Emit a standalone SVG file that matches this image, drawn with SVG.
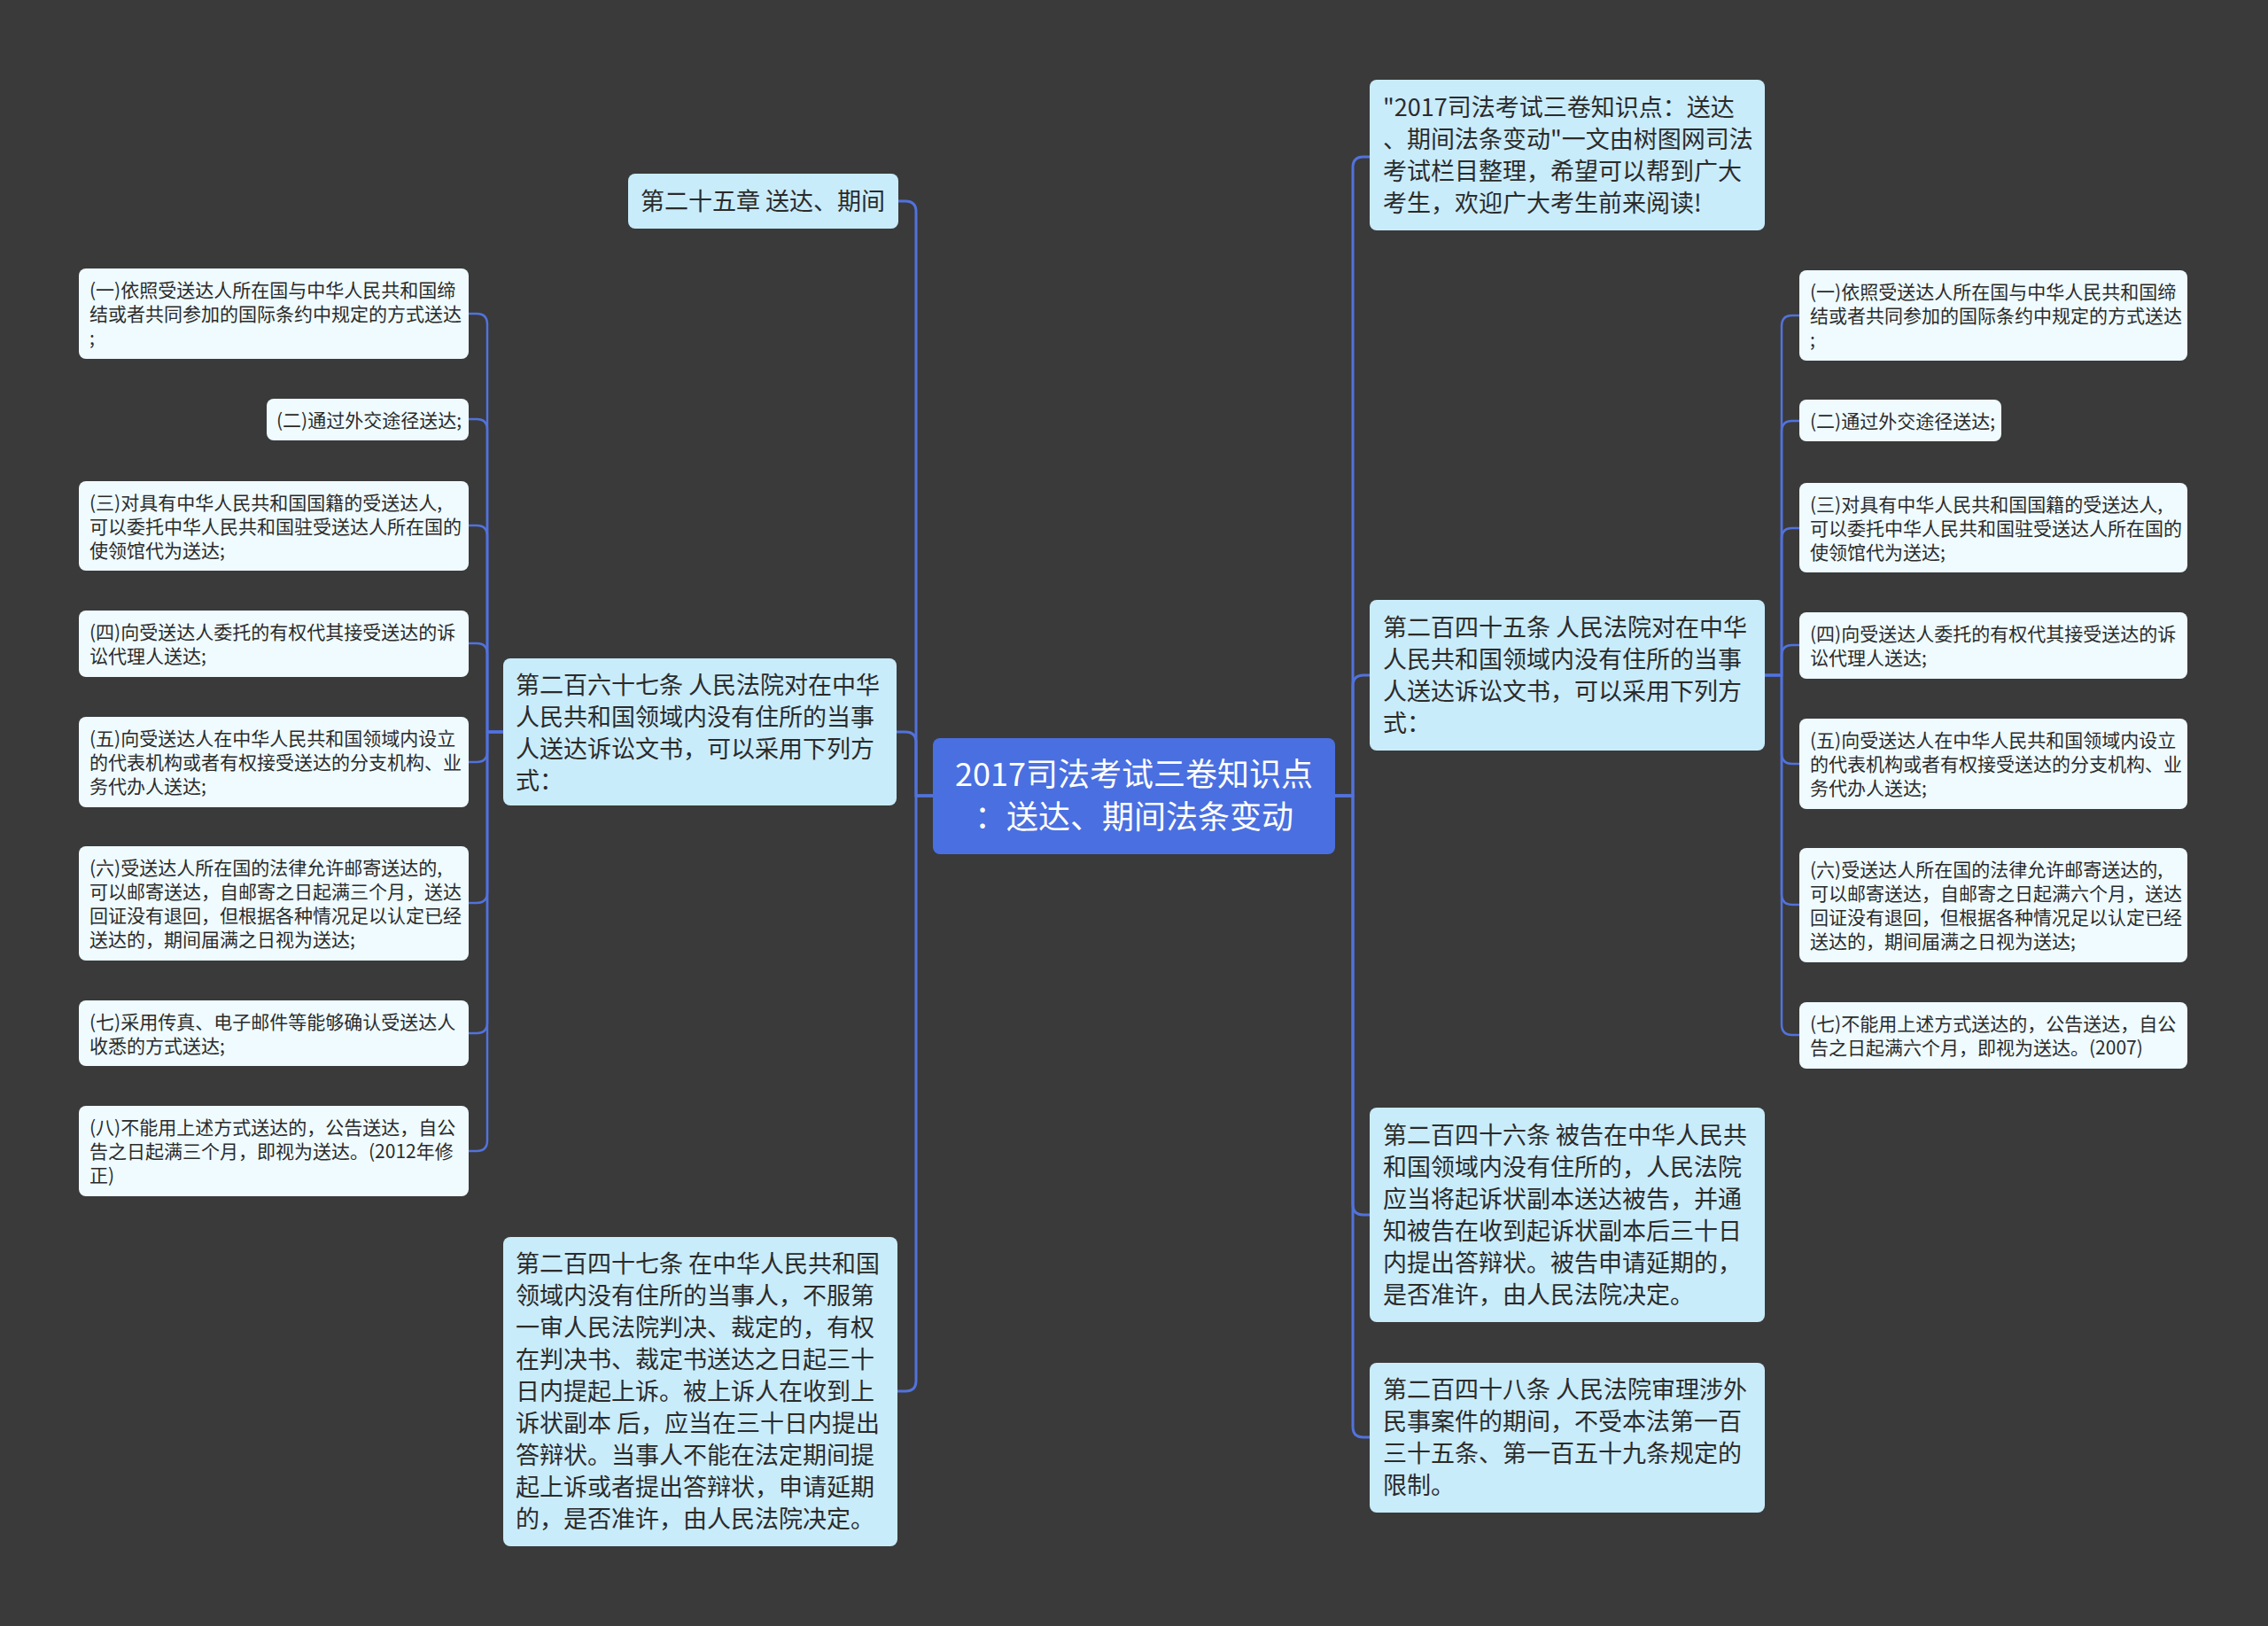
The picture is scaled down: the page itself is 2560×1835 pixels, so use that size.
<svg xmlns="http://www.w3.org/2000/svg" width="2560" height="1835" viewBox="0 0 2560 1835">
<style>
.bg{fill:#3a3a3a}
.root{fill:#4a6fe0}
.mid{fill:#c9ecfb}
.leaf{fill:#effbff}
.t{font-family:"Noto Sans CJK SC","Noto Sans",sans-serif;fill:#2b2b2b}
.tr{font-family:"Noto Sans CJK SC","Noto Sans",sans-serif;fill:#ffffff;font-size:36px}
.tm{font-size:27px}
.tl{font-size:21px}
.c{fill:none;stroke:#5272dc;stroke-width:3;stroke-linecap:round;stroke-linejoin:round}
.cl{stroke-width:2.5}
</style>
<rect class="bg" x="0" y="0" width="2560" height="1835"/>
<g id="connectors">
<path class="c" d="M1053,898 H1034 V239 Q1034,227 1022,227 H1014"/>
<path class="c" d="M1053,898 H1034 V838 Q1034,826 1022,826 H1012"/>
<path class="c" d="M1053,898 H1034 V1558 Q1034,1570 1022,1570 H1013"/>
<path class="c" d="M1507,898 H1527 V189 Q1527,177 1539,177 H1546"/>
<path class="c" d="M1507,898 H1527 V774 Q1527,762 1539,762 H1546"/>
<path class="c" d="M1507,898 H1527 V1359 Q1527,1371 1539,1371 H1546"/>
<path class="c" d="M1507,898 H1527 V1610 Q1527,1622 1539,1622 H1546"/>
<g class="cl">
<path class="c cl" d="M568,826 H550 V366 Q550,354 538,354 H529"/>
<path class="c cl" d="M568,826 H550 V485 Q550,473 538,473 H529"/>
<path class="c cl" d="M568,826 H550 V605 Q550,593 538,593 H529"/>
<path class="c cl" d="M568,826 H550 V738 Q550,726 538,726 H529"/>
<path class="c cl" d="M568,826 H550 V848 Q550,860 538,860 H529"/>
<path class="c cl" d="M568,826 H550 V1007 Q550,1019 538,1019 H529"/>
<path class="c cl" d="M568,826 H550 V1154 Q550,1166 538,1166 H529"/>
<path class="c cl" d="M568,826 H550 V1287 Q550,1299 538,1299 H529"/>
<path class="c cl" d="M1992,762 H2011 V368 Q2011,356 2023,356 H2031"/>
<path class="c cl" d="M1992,762 H2011 V487 Q2011,475 2023,475 H2031"/>
<path class="c cl" d="M1992,762 H2011 V608 Q2011,596 2023,596 H2031"/>
<path class="c cl" d="M1992,762 H2011 V740 Q2011,728 2023,728 H2031"/>
<path class="c cl" d="M1992,762 H2011 V850 Q2011,862 2023,862 H2031"/>
<path class="c cl" d="M1992,762 H2011 V1009 Q2011,1021 2023,1021 H2031"/>
<path class="c cl" d="M1992,762 H2011 V1156 Q2011,1168 2023,1168 H2031"/>
</g>
</g>
<g id="root">
<rect class="root" x="1053" y="833" width="454" height="131" rx="8"/>
<text class="tr" text-anchor="middle"><tspan x="1280" y="887">2017司法考试三卷知识点</tspan><tspan x="1280" y="935">：送达、期间法条变动</tspan></text>
</g>
<g id="n-ch25">
<rect class="mid" x="709" y="196" width="305" height="62" rx="8"/>
<text class="t tm"><tspan x="723" y="237">第二十五章 送达、期间</tspan></text>
</g>
<g id="n-267">
<rect class="mid" x="568" y="743" width="444" height="166" rx="8"/>
<text class="t tm"><tspan x="582" y="783">第二百六十七条 人民法院对在中华</tspan><tspan x="582" y="819">人民共和国领域内没有住所的当事</tspan><tspan x="582" y="855">人送达诉讼文书，可以采用下列方</tspan><tspan x="582" y="891">式：</tspan></text>
</g>
<g id="n-247">
<rect class="mid" x="568" y="1396" width="445" height="349" rx="8"/>
<text class="t tm"><tspan x="582" y="1436">第二百四十七条 在中华人民共和国</tspan><tspan x="582" y="1472">领域内没有住所的当事人，不服第</tspan><tspan x="582" y="1508">一审人民法院判决、裁定的，有权</tspan><tspan x="582" y="1544">在判决书、裁定书送达之日起三十</tspan><tspan x="582" y="1580">日内提起上诉。被上诉人在收到上</tspan><tspan x="582" y="1616">诉状副本 后，应当在三十日内提出</tspan><tspan x="582" y="1652">答辩状。当事人不能在法定期间提</tspan><tspan x="582" y="1688">起上诉或者提出答辩状，申请延期</tspan><tspan x="582" y="1724">的，是否准许，由人民法院决定。</tspan></text>
</g>
<g id="n-intro">
<rect class="mid" x="1546" y="90" width="446" height="170" rx="8"/>
<text class="t tm"><tspan x="1561" y="131">"2017司法考试三卷知识点：送达</tspan><tspan x="1561" y="167">、期间法条变动"一文由树图网司法</tspan><tspan x="1561" y="203">考试栏目整理，希望可以帮到广大</tspan><tspan x="1561" y="239">考生，欢迎广大考生前来阅读!</tspan></text>
</g>
<g id="n-245">
<rect class="mid" x="1546" y="677" width="446" height="170" rx="8"/>
<text class="t tm"><tspan x="1561" y="718">第二百四十五条 人民法院对在中华</tspan><tspan x="1561" y="754">人民共和国领域内没有住所的当事</tspan><tspan x="1561" y="790">人送达诉讼文书，可以采用下列方</tspan><tspan x="1561" y="826">式：</tspan></text>
</g>
<g id="n-246">
<rect class="mid" x="1546" y="1250" width="446" height="242" rx="8"/>
<text class="t tm"><tspan x="1561" y="1291">第二百四十六条 被告在中华人民共</tspan><tspan x="1561" y="1327">和国领域内没有住所的，人民法院</tspan><tspan x="1561" y="1363">应当将起诉状副本送达被告，并通</tspan><tspan x="1561" y="1399">知被告在收到起诉状副本后三十日</tspan><tspan x="1561" y="1435">内提出答辩状。被告申请延期的，</tspan><tspan x="1561" y="1471">是否准许，由人民法院决定。</tspan></text>
</g>
<g id="n-248">
<rect class="mid" x="1546" y="1538" width="446" height="169" rx="8"/>
<text class="t tm"><tspan x="1561" y="1578">第二百四十八条 人民法院审理涉外</tspan><tspan x="1561" y="1614">民事案件的期间，不受本法第一百</tspan><tspan x="1561" y="1650">三十五条、第一百五十九条规定的</tspan><tspan x="1561" y="1686">限制。</tspan></text>
</g>
<g id="l1">
<rect class="leaf" x="89" y="303" width="440" height="102" rx="8"/>
<text class="t tl"><tspan x="101" y="335">(一)依照受送达人所在国与中华人民共和国缔</tspan><tspan x="101" y="362">结或者共同参加的国际条约中规定的方式送达</tspan><tspan x="101" y="389">;</tspan></text>
</g>
<g id="l2">
<rect class="leaf" x="301" y="450" width="228" height="47" rx="8"/>
<text class="t tl"><tspan x="312" y="482">(二)通过外交途径送达;</tspan></text>
</g>
<g id="l3">
<rect class="leaf" x="89" y="543" width="440" height="101" rx="8"/>
<text class="t tl"><tspan x="101" y="575">(三)对具有中华人民共和国国籍的受送达人,</tspan><tspan x="101" y="602">可以委托中华人民共和国驻受送达人所在国的</tspan><tspan x="101" y="629">使领馆代为送达;</tspan></text>
</g>
<g id="l4">
<rect class="leaf" x="89" y="689" width="440" height="75" rx="8"/>
<text class="t tl"><tspan x="101" y="721">(四)向受送达人委托的有权代其接受送达的诉</tspan><tspan x="101" y="748">讼代理人送达;</tspan></text>
</g>
<g id="l5">
<rect class="leaf" x="89" y="809" width="440" height="102" rx="8"/>
<text class="t tl"><tspan x="101" y="841">(五)向受送达人在中华人民共和国领域内设立</tspan><tspan x="101" y="868">的代表机构或者有权接受送达的分支机构、业</tspan><tspan x="101" y="895">务代办人送达;</tspan></text>
</g>
<g id="l6">
<rect class="leaf" x="89" y="955" width="440" height="129" rx="8"/>
<text class="t tl"><tspan x="101" y="987">(六)受送达人所在国的法律允许邮寄送达的,</tspan><tspan x="101" y="1014">可以邮寄送达，自邮寄之日起满三个月，送达</tspan><tspan x="101" y="1041">回证没有退回，但根据各种情况足以认定已经</tspan><tspan x="101" y="1068">送达的，期间届满之日视为送达;</tspan></text>
</g>
<g id="l7">
<rect class="leaf" x="89" y="1129" width="440" height="74" rx="8"/>
<text class="t tl"><tspan x="101" y="1161">(七)采用传真、电子邮件等能够确认受送达人</tspan><tspan x="101" y="1188">收悉的方式送达;</tspan></text>
</g>
<g id="l8">
<rect class="leaf" x="89" y="1248" width="440" height="102" rx="8"/>
<text class="t tl"><tspan x="101" y="1280">(八)不能用上述方式送达的，公告送达，自公</tspan><tspan x="101" y="1307">告之日起满三个月，即视为送达。(2012年修</tspan><tspan x="101" y="1334">正)</tspan></text>
</g>
<g id="r1">
<rect class="leaf" x="2031" y="305" width="438" height="102" rx="8"/>
<text class="t tl"><tspan x="2043" y="337">(一)依照受送达人所在国与中华人民共和国缔</tspan><tspan x="2043" y="364">结或者共同参加的国际条约中规定的方式送达</tspan><tspan x="2043" y="391">;</tspan></text>
</g>
<g id="r2">
<rect class="leaf" x="2031" y="451" width="228" height="47" rx="8"/>
<text class="t tl"><tspan x="2043" y="483">(二)通过外交途径送达;</tspan></text>
</g>
<g id="r3">
<rect class="leaf" x="2031" y="545" width="438" height="101" rx="8"/>
<text class="t tl"><tspan x="2043" y="577">(三)对具有中华人民共和国国籍的受送达人,</tspan><tspan x="2043" y="604">可以委托中华人民共和国驻受送达人所在国的</tspan><tspan x="2043" y="631">使领馆代为送达;</tspan></text>
</g>
<g id="r4">
<rect class="leaf" x="2031" y="691" width="438" height="75" rx="8"/>
<text class="t tl"><tspan x="2043" y="723">(四)向受送达人委托的有权代其接受送达的诉</tspan><tspan x="2043" y="750">讼代理人送达;</tspan></text>
</g>
<g id="r5">
<rect class="leaf" x="2031" y="811" width="438" height="102" rx="8"/>
<text class="t tl"><tspan x="2043" y="843">(五)向受送达人在中华人民共和国领域内设立</tspan><tspan x="2043" y="870">的代表机构或者有权接受送达的分支机构、业</tspan><tspan x="2043" y="897">务代办人送达;</tspan></text>
</g>
<g id="r6">
<rect class="leaf" x="2031" y="957" width="438" height="129" rx="8"/>
<text class="t tl"><tspan x="2043" y="989">(六)受送达人所在国的法律允许邮寄送达的,</tspan><tspan x="2043" y="1016">可以邮寄送达，自邮寄之日起满六个月，送达</tspan><tspan x="2043" y="1043">回证没有退回，但根据各种情况足以认定已经</tspan><tspan x="2043" y="1070">送达的，期间届满之日视为送达;</tspan></text>
</g>
<g id="r7">
<rect class="leaf" x="2031" y="1131" width="438" height="75" rx="8"/>
<text class="t tl"><tspan x="2043" y="1163">(七)不能用上述方式送达的，公告送达，自公</tspan><tspan x="2043" y="1190">告之日起满六个月，即视为送达。(2007)</tspan></text>
</g>
</svg>
